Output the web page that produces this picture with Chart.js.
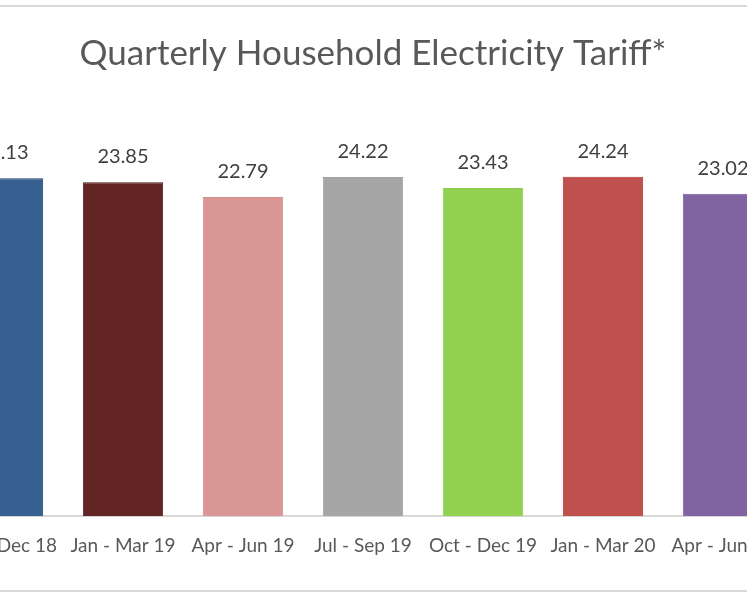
<!DOCTYPE html>
<html>
<head>
<meta charset="utf-8">
<script src="https://cdn.jsdelivr.net/npm/chart.js@4.4.1/dist/chart.umd.min.js"></script>
<style>
  html, body { margin: 0; padding: 0; background: #fff; overflow: hidden; }
  body { width: 747px; height: 598px; position: relative; }
  #frame { position: absolute; left: -20px; top: 5px; width: 787px; height: 583px; border: 2px solid #d9d9d9; border-radius: 4px; }
  #wrap { position: absolute; left: -57.5px; top: 0; width: 860px; height: 598px; }
</style>
</head>
<body>
<div id="frame"></div>
<div id="wrap"><canvas id="tariffChart"></canvas></div>
<script>
// quarters shown in the picture (first and last are cut off by the frame)
var quarters = ['Oct - Dec 18', 'Jan - Mar 19', 'Apr - Jun 19', 'Jul - Sep 19', 'Oct - Dec 19', 'Jan - Mar 20', 'Apr - Jun 20'];
var tariff = [24.13, 23.85, 22.79, 24.22, 23.43, 24.24, 23.02];
var barColours = ['#366092', '#632523', '#D99694', '#A6A6A6', '#92D050', '#C0504D', '#8064A2'];
var barBorders = ['#1F3F6A', '#4A1A18', '#D08C8A', '#A0A0A0', '#8CC84A', '#B0302D', '#7A5E9C'];

var fontName = 'Lato';

// draws the value above each bar, like excel data labels
var valueLabels = {
    id: 'valueLabels',
    afterDatasetsDraw: function(chart) {
        var ctx = chart.ctx;
        var meta = chart.getDatasetMeta(0);
        ctx.save();
        ctx.font = '20px ' + fontName;
        ctx.fillStyle = '#404040';
        ctx.textAlign = 'center';
        ctx.textBaseline = 'alphabetic';
        meta.data.forEach(function(bar, i) {
            ctx.fillText(tariff[i].toFixed(2), bar.x, bar.y - 19);
        });
        ctx.restore();
    }
};

var canvas = document.getElementById('tariffChart');
var tariffChart = new Chart(canvas.getContext('2d'), {
    type: 'bar',
    data: {
        labels: quarters,
        datasets: [{
            data: tariff,
            backgroundColor: barColours,
            borderColor: barBorders,
            borderWidth: 1,
            barPercentage: 0.67,
            categoryPercentage: 1
        }]
    },
    options: {
        responsive: true,
        maintainAspectRatio: false,
        animation: false,
        layout: { padding: { left: 0, right: 0, top: 0, bottom: 23 } },
        plugins: {
            legend: { display: false },
            tooltip: { enabled: false },
            title: {
                display: true,
                text: 'Quarterly Household Electricity Tariff*',
                color: '#595959',
                font: { family: fontName, size: 35, weight: 'normal' },
                padding: { top: 33, bottom: 21 }
            }
        },
        scales: {
            x: {
                grid: { display: false, drawTicks: false },
                border: { display: true, color: '#d9d9d9', width: 2 },
                ticks: {
                    color: '#595959',
                    font: { family: fontName, size: 19 },
                    padding: 18,
                    maxRotation: 0,
                    autoSkip: false
                },
                // labels at the ends are cut off anyway, so no extra side padding
                afterFit: function(scale) {
                    scale.paddingLeft = 0;
                    scale.paddingRight = 0;
                }
            },
            y: {
                position: 'right',
                min: 0,
                max: 30,
                grid: { display: false, drawTicks: false },
                border: { display: false },
                ticks: { display: false },
                afterFit: function(scale) { scale.width = 20; }
            }
        }
    },
    plugins: [valueLabels]
});
</script>
</body>
</html>
